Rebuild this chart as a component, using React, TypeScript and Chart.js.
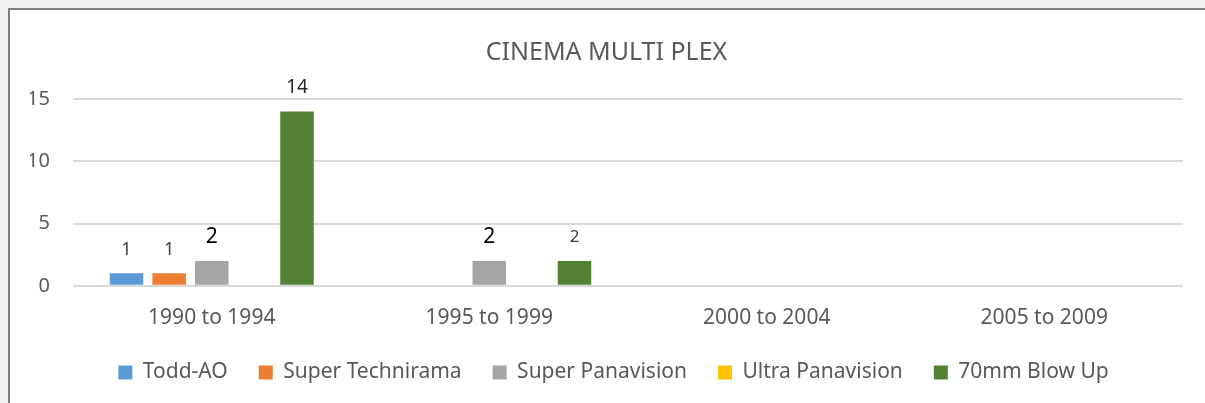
import React, { useEffect, useRef } from "react";
import { Chart, registerables } from "chart.js";

Chart.register(...registerables);

// ---- data ----
const categories = ["1990 to 1994", "1995 to 1999", "2000 to 2004", "2005 to 2009"];
const seriesNames = ["Todd-AO", "Super Technirama", "Super Panavision", "Ultra Panavision", "70mm Blow Up"];
const toddAO = [1, null, null, null];
const superTechnirama = [1, null, null, null];
const superPanavision = [2, 2, null, null];
const ultraPanavision = [null, null, null, null];
const blowUp70mm = [14, 2, null, null];
const yTicks = [0, 5, 10, 15];

// ---- styles ----
const FONT = '"Noto Sans", "Open Sans", sans-serif';
const seriesColors = ["#5B9BD5", "#ED7D31", "#A5A5A5", "#FFC000", "#548235"];
const TEXT = "#595959";
const defaultLabelStyle = { size: 18, color: "#404040" };
const datasetLabelStyle: Record<number, { size: number; color: string }> = {
  2: { size: 21, color: "#000000" },
  4: { size: 19, color: "#262626" },
};
const pointLabelStyle: Record<string, { size: number; color: string }> = {
  "4-1": { size: 17, color: "#404040" },
};
const LABEL_OFFSET = 23.5;
const LEGEND_SHIFT = 7;

function labelStyle(di: number, i: number) {
  return pointLabelStyle[`${di}-${i}`] || datasetLabelStyle[di] || defaultLabelStyle;
}

const valueLabelPlugin = {
  id: "valueLabels",
  afterLayout(chart: any) {
    if (chart.legend) {
      chart.legend.left += LEGEND_SHIFT;
      chart.legend.right += LEGEND_SHIFT;
    }
  },
  afterDatasetsDraw(chart: any) {
    const ctx = chart.ctx;
    chart.data.datasets.forEach((ds: any, di: number) => {
      const meta = chart.getDatasetMeta(di);
      if (meta.hidden) return;
      meta.data.forEach((bar: any, i: number) => {
        const v = ds.data[i];
        if (v === null || v === undefined) return;
        const st = labelStyle(di, i);
        ctx.save();
        ctx.font = `normal ${st.size}px ${FONT}`;
        ctx.fillStyle = st.color;
        ctx.textAlign = "center";
        ctx.textBaseline = "middle";
        ctx.fillText(String(v), bar.x, bar.y - LABEL_OFFSET);
        ctx.restore();
      });
    });
  },
};

export default function App() {
  const ref = useRef<HTMLCanvasElement | null>(null);

  useEffect(() => {
    if (!ref.current) return;
    const values = [toddAO, superTechnirama, superPanavision, ultraPanavision, blowUp70mm];
    const chart = new Chart(ref.current, {
      type: "bar",
      data: {
        labels: categories,
        datasets: seriesNames.map((name, k) => ({
          label: name,
          data: values[k],
          backgroundColor: seriesColors[k],
          borderWidth: 0,
          categoryPercentage: 0.768,
          barPercentage: 0.786,
        })),
      },
      options: {
        responsive: false,
        animation: false,
        layout: { padding: { left: 20, right: 22, top: 0, bottom: 0 } },
        plugins: {
          title: {
            display: true,
            text: "CINEMA MULTI PLEX",
            color: TEXT,
            font: { family: FONT, size: 25, weight: "normal" },
            padding: { top: 27.5, bottom: 31.5 },
          },
          legend: {
            position: "bottom",
            labels: {
              color: TEXT,
              font: { family: FONT, size: 21 },
              boxWidth: 14,
              boxHeight: 14,
              padding: 31,
            },
          },
          tooltip: { enabled: false },
        },
        scales: {
          x: {
            grid: { display: false, drawTicks: true, tickLength: 20 },
            border: { display: false },
            ticks: { color: TEXT, font: { family: FONT, size: 21 }, padding: 0 },
          },
          y: {
            min: yTicks[0],
            max: yTicks[yTicks.length - 1],
            afterFit: (s: any) => {
              s.width = 43;
            },
            afterBuildTicks: (s: any) => {
              s.ticks = yTicks.map((v) => ({ value: v }));
            },
            grid: { color: "#d9d9d9", lineWidth: 2, drawTicks: false },
            border: { display: false },
            ticks: { color: TEXT, font: { family: FONT, size: 20 }, padding: 23 },
          },
        },
      },
      plugins: [valueLabelPlugin],
    });
    return () => chart.destroy();
  }, []);

  return (
    <div style={{ position: "fixed", inset: 0, background: "#f2f2f2", overflow: "hidden" }}>
      <div
        style={{
          position: "absolute",
          left: 8,
          top: 8,
          width: 1220,
          height: 430,
          border: "2px solid #7f7f7f",
          background: "#ffffff",
          boxSizing: "border-box",
        }}
      >
        <canvas
          ref={ref}
          width={1195}
          height={383}
          style={{ display: "block", width: 1195, height: 383 }}
        />
      </div>
    </div>
  );
}
